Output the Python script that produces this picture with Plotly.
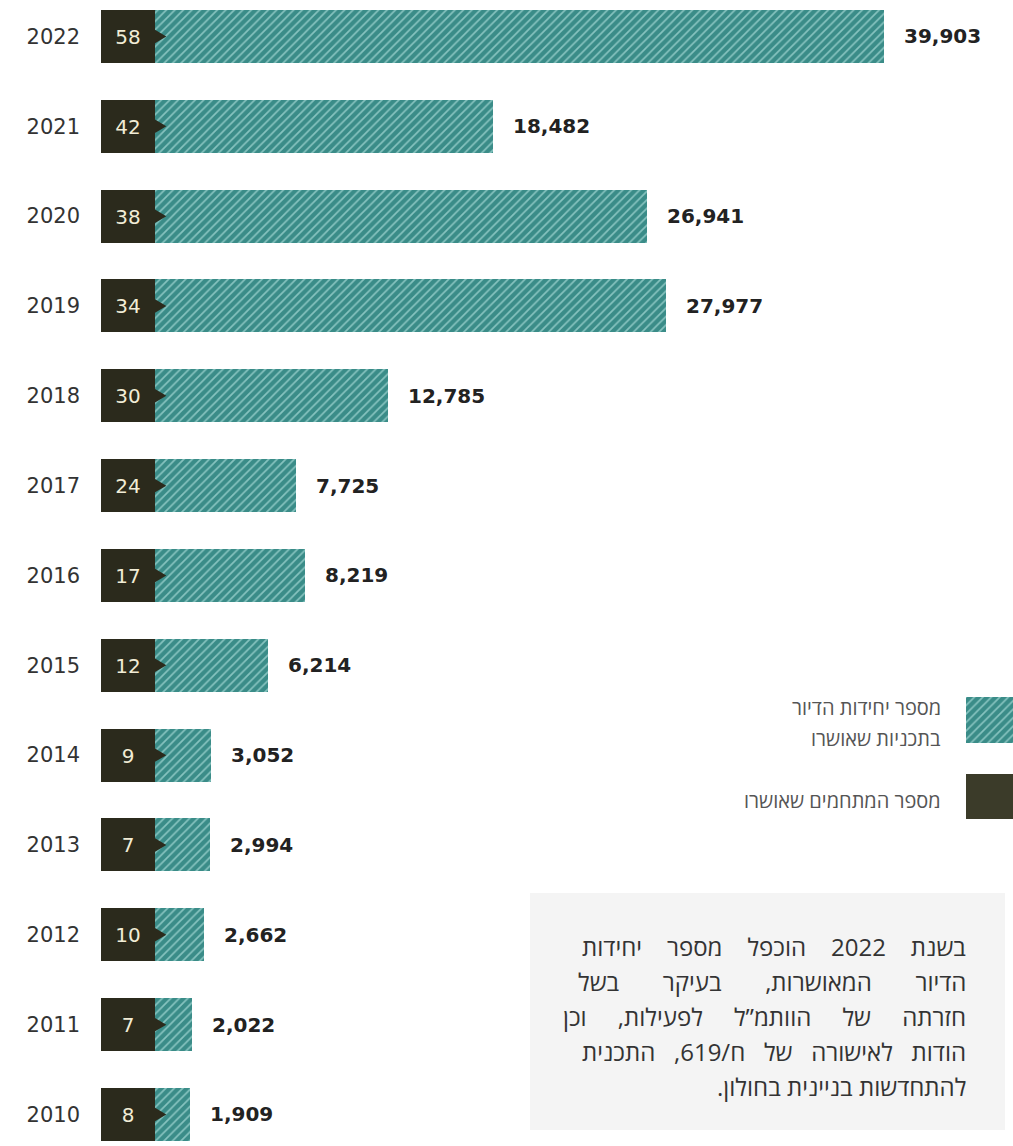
import plotly.graph_objects as go

# Approved housing plans per year
years = [2022, 2021, 2020, 2019, 2018, 2017, 2016, 2015, 2014, 2013, 2012, 2011, 2010]
housing_units = [39903, 18482, 26941, 27977, 12785, 7725, 8219, 6214, 3052, 2994, 2662, 2022, 1909]
compounds = [58, 42, 38, 34, 30, 24, 17, 12, 9, 7, 10, 7, 8]

legend_units = ["מספר יחידות הדיור", "בתכניות שאושרו"]
legend_compounds = "מספר המתחמים שאושרו"
note_lines = [
    "בשנת 2022 הוכפל מספר יחידות",
    "הדיור המאושרות, בעיקר בשל",
    "חזרתה של הוותמ”ל לפעילות, וכן",
    "הודות לאישורה של ח/619, התכנית",
    "להתחדשות בניינית בחולון.",
]
# extra word spacing per line so the paragraph reads as justified
note_extra_spaces = [3, 6, 4, 2, 0]

TEAL = "#3a8c88"
STRIPE = "#86c3bf"
DARK = "#2b2a1c"
DARK_LEGEND = "#3b3b29"
CREAM = "#f1ecd6"
LATIN = "DejaVu Sans, Verdana, sans-serif"
HEB = "Open Sans, DejaVu Sans, sans-serif"

BAR_W = 0.59          # bar thickness in years
BOX_W = 2930          # width of the dark count box (x units)
ARROW_L = 620         # arrow length (x units)
ARROW_H = 0.075       # arrow half-height (years)

W, H = 1013.0, 1146.0
ML = 100              # left margin (px)


def px_x(px):
    """Figure pixel column -> paper x (paper spans the plot area)."""
    return (px - ML) / (W - ML)


def px_y(py):
    return 1 - py / H


def rtl(s):
    return "\u200f" + s + "\u200f"


def spread(s, n):
    return (" " + "\u00a0" * n).join(s.split(" "))


fig = go.Figure()

# Hatched housing-unit bars
fig.add_trace(go.Bar(
    x=housing_units, y=years, base=0, orientation="h", width=BAR_W,
    marker=dict(
        color=TEAL, line=dict(width=0),
        pattern=dict(shape="/", fgcolor=STRIPE, bgcolor=TEAL, size=6, solidity=0.28, fillmode="replace"),
    ),
    hoverinfo="skip", showlegend=False,
))

# Dark count boxes
fig.add_trace(go.Bar(
    x=[BOX_W] * len(years), y=years, base=-BOX_W, orientation="h", width=BAR_W,
    marker=dict(color=DARK, line=dict(width=0)),
    text=[str(c) for c in compounds], textposition="inside", insidetextanchor="middle",
    textangle=0, constraintext="none",
    textfont=dict(family=LATIN, size=20, color=CREAM),
    hoverinfo="skip", showlegend=False,
))

# Arrow tips on the boxes
ax, ay = [], []
for yr in years:
    ax += [0, ARROW_L, 0, 0, None]
    ay += [yr - ARROW_H, yr, yr + ARROW_H, yr - ARROW_H, None]
fig.add_trace(go.Scatter(
    x=ax, y=ay, mode="lines", fill="toself", fillcolor=DARK,
    line=dict(width=0, color=DARK), hoverinfo="skip", showlegend=False,
))

# Value labels
for yr, v in zip(years, housing_units):
    fig.add_annotation(
        x=v, y=yr, xref="x", yref="y", text=f"<b>{v:,}</b>", showarrow=False,
        xanchor="left", yanchor="middle", xshift=18,
        font=dict(family=LATIN, size=20, color="#222222"),
    )

# Legend swatches
fig.add_trace(go.Bar(
    x=[1], y=[99], base=0, orientation="h", width=46, xaxis="x2", yaxis="y2",
    marker=dict(color=TEAL, line=dict(width=0),
                pattern=dict(shape="/", fgcolor=STRIPE, bgcolor=TEAL, size=6, solidity=0.28, fillmode="replace")),
    hoverinfo="skip", showlegend=False,
))
fig.add_trace(go.Bar(
    x=[1], y=[22.5], base=0, orientation="h", width=45, xaxis="x2", yaxis="y2",
    marker=dict(color=DARK_LEGEND, line=dict(width=0)),
    hoverinfo="skip", showlegend=False,
))

leg_font = dict(family=HEB, size=20, color="#555555")
for txt, py in [(legend_units[0], 707), (legend_units[1], 738), (legend_compounds, 800)]:
    fig.add_annotation(
        x=px_x(943), y=px_y(py), xref="paper", yref="paper", text=rtl(txt),
        showarrow=False, xanchor="right", yanchor="middle", font=leg_font,
    )

# Note box
fig.add_shape(type="rect", xref="paper", yref="paper",
              x0=px_x(530), x1=px_x(1005), y0=px_y(1130), y1=px_y(893),
              fillcolor="#f4f4f4", line=dict(width=0), layer="below")
for i, (line, extra) in enumerate(zip(note_lines, note_extra_spaces)):
    fig.add_annotation(
        x=px_x(968), y=px_y(946 + i * 35), xref="paper", yref="paper",
        text=rtl(spread(line, extra)),
        showarrow=False, xanchor="right", yanchor="middle",
        font=dict(family=HEB, size=24, color="#333333"),
    )

fig.update_layout(
    width=1013, height=1146,
    margin=dict(l=ML, r=0, t=0, b=0),
    paper_bgcolor="white", plot_bgcolor="white",
    barmode="overlay", bargap=0,
    xaxis=dict(range=[-3011.7, 46983], visible=False, fixedrange=True),
    yaxis=dict(
        range=[2009.649, 2022.406], tickvals=years, ticktext=[str(y) for y in years],
        showgrid=False, zeroline=False, showline=False, ticks="",
        ticklabelstandoff=19,
        tickfont=dict(family=LATIN, size=21, color="#333333"),
        fixedrange=True,
    ),
    xaxis2=dict(domain=[px_x(966), 1], range=[0, 1], visible=False, anchor="y2", fixedrange=True),
    yaxis2=dict(domain=[px_y(819), px_y(697)], range=[0, 122], visible=False, anchor="x2", fixedrange=True),
    showlegend=False,
)

fig.write_html("out.html")
